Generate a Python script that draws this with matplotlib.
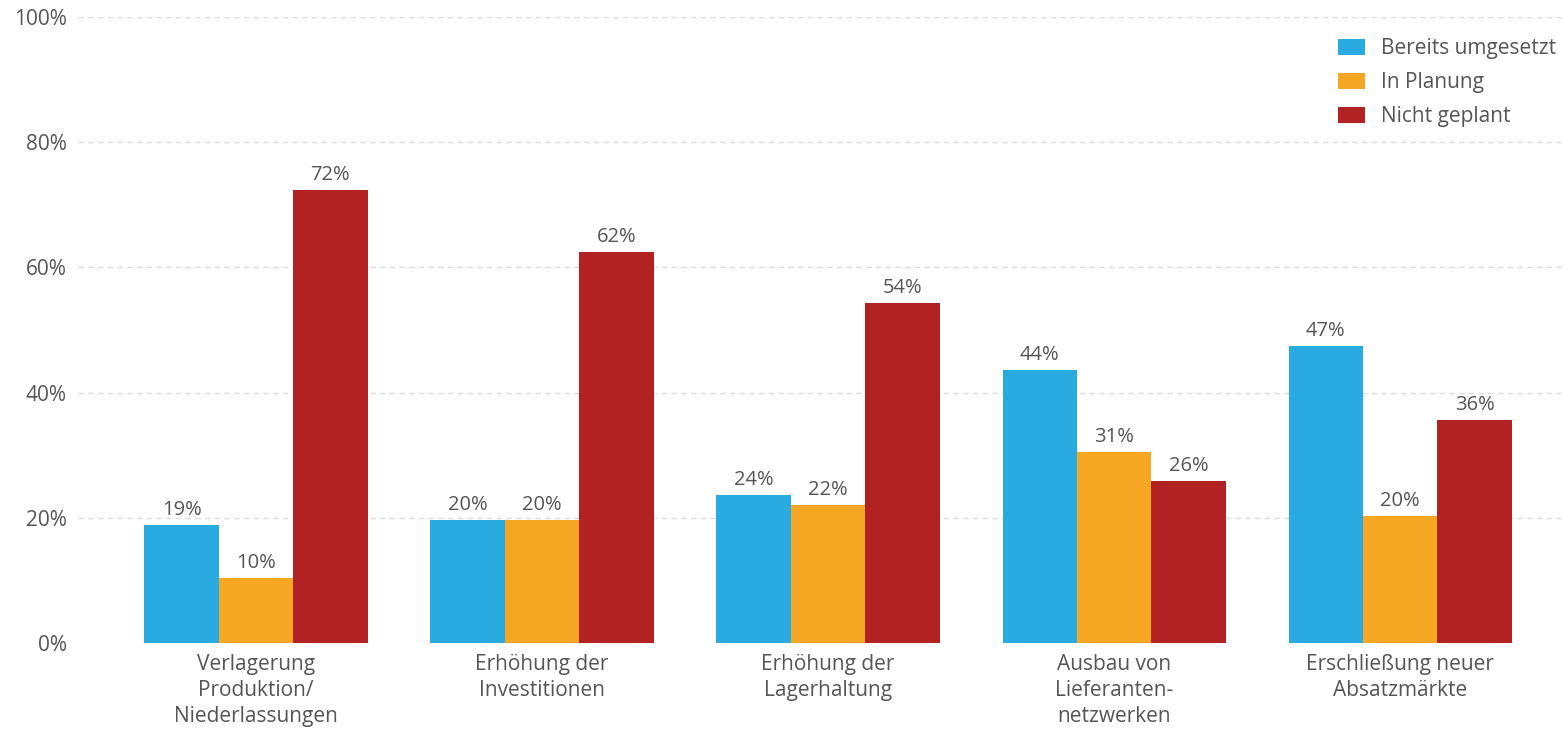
import matplotlib.pyplot as plt
import numpy as np

categories = ['Verlagerung\nProduktion/\nNiederlassungen', 'Erhöhung der\nInvestitionen',
              'Erhöhung der\nLagerhaltung', 'Ausbau von\nLieferanten-\nnetzwerken',
              'Erschließung neuer\nAbsatzmärkte']
series_names = ['Bereits umgesetzt', 'In Planung', 'Nicht geplant']
umgesetzt = [18.9, 19.6, 23.6, 43.6, 47.4]
planung = [10.4, 19.6, 22.0, 30.6, 20.3]
nicht_geplant = [72.4, 62.4, 54.3, 25.9, 35.6]
colors = ['#29aae1', '#f5a623', '#b22222']
yticks = [0, 20, 40, 60, 80, 100]


def main():
    plt.rcParams['font.family'] = ['Open Sans', 'DejaVu Sans']
    txt = '#555555'
    fig = plt.figure(figsize=(15.64, 7.30), dpi=100)
    ax = fig.add_axes([0.0499, 0.119, 0.9501, 0.8577])

    x = np.arange(len(categories))
    w = 0.26
    for i, (vals, name) in enumerate(zip([umgesetzt, planung, nicht_geplant], series_names)):
        bars = ax.bar(x + (i - 1) * w, vals, w, color=colors[i], label=name, zorder=3)
        for b, v in zip(bars, vals):
            ax.text(b.get_x() + b.get_width() / 2, v + 0.8, '%.0f%%' % v,
                    ha='center', va='bottom', fontsize=14.5, color=txt)

    ax.set_xlim(-0.622, 4.573)
    ax.set_ylim(0, 100)
    ax.set_yticks(yticks)
    ax.set_yticklabels(['%d%%' % t for t in yticks])
    ax.set_xticks(x)
    ax.set_xticklabels(categories, linespacing=1.3)
    ax.tick_params(axis='both', length=0, labelsize=15, labelcolor=txt)
    ax.tick_params(axis='x', pad=8)
    ax.tick_params(axis='y', pad=8)
    for s in ax.spines.values():
        s.set_visible(False)
    for t in yticks[1:]:
        ax.axhline(t, color='#dddddd', lw=1, ls=(0, (4, 3)), zorder=1)

    ax.legend(loc='upper right', frameon=False, fontsize=15, labelcolor=txt,
              handlelength=1.3, handleheight=0.8, handletextpad=0.75,
              labelspacing=0.63, bbox_to_anchor=(1.0, 0.98), borderaxespad=0.0)

    fig.savefig('out.png', dpi=100)


if __name__ == '__main__':
    main()
